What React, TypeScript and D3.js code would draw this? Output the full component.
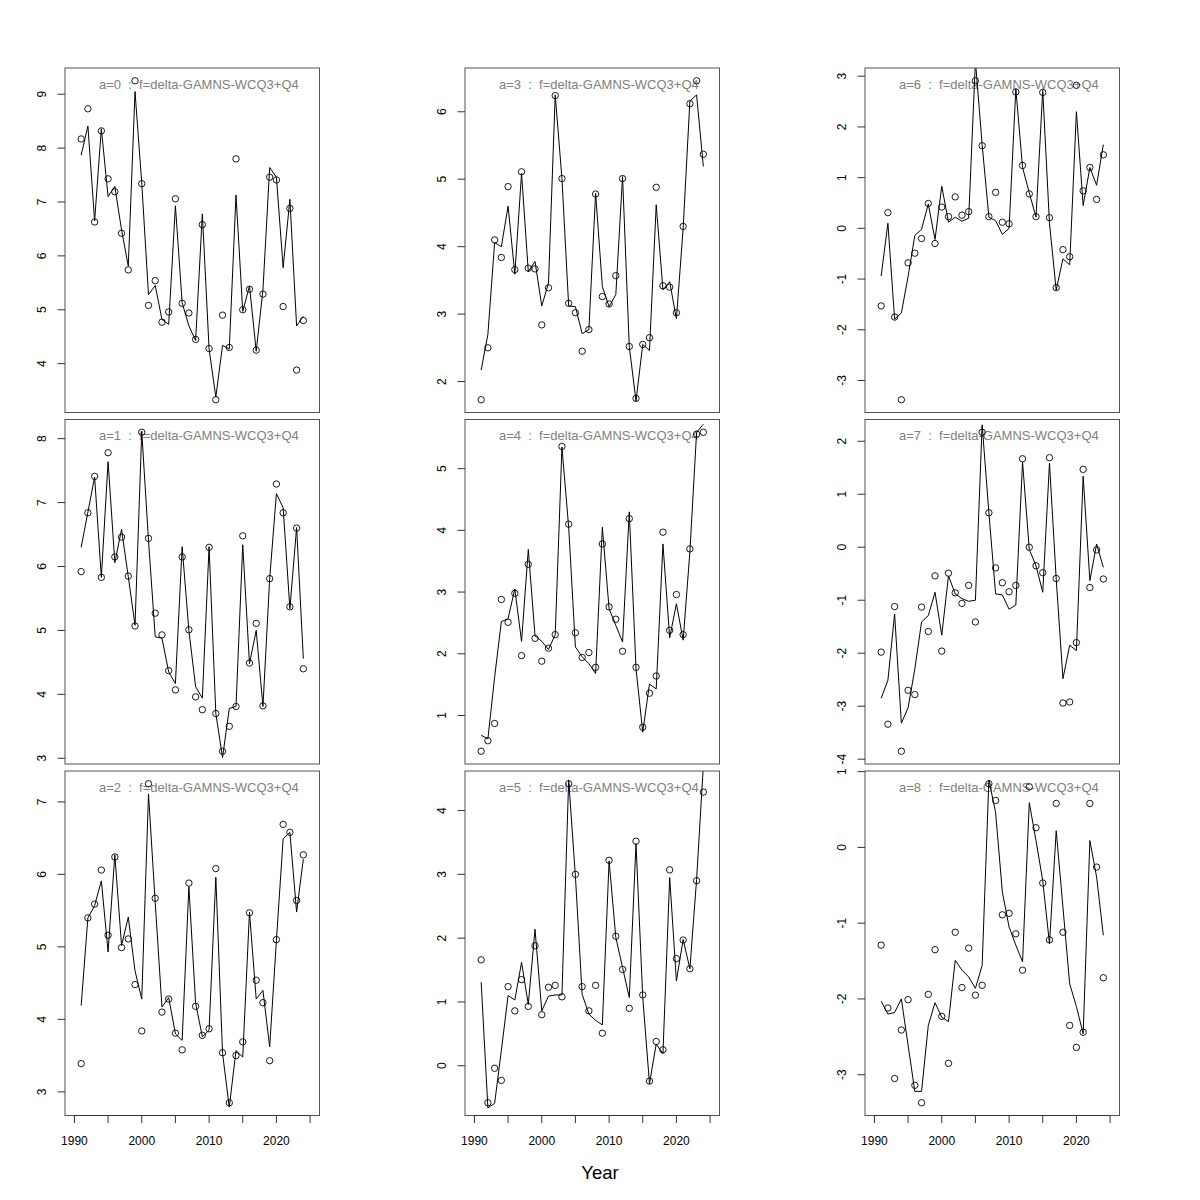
import React from 'react';
import * as d3 from 'd3';

const years = [1991, 1992, 1993, 1994, 1995, 1996, 1997, 1998, 1999, 2000, 2001, 2002, 2003, 2004, 2005, 2006, 2007,
  2008, 2009, 2010, 2011, 2012, 2013, 2014, 2015, 2016, 2017, 2018, 2019, 2020, 2021, 2022, 2023, 2024];
const xTicks = [1990, 1995, 2000, 2005, 2010, 2015, 2020, 2025];
const xLabels = [1990, 2000, 2010, 2020];

const obsA0 = [8.17, 8.73, 6.63, 8.32, 7.43, 7.19, 6.42, 5.74, 9.25, 7.34, 5.08, 5.54, 4.77, 4.96, 7.06, 5.12, 4.94, 4.45, 6.58, 4.28, 3.33, 4.90, 4.30, 7.80, 5.00, 5.38, 4.25, 5.29, 7.46, 7.41, 5.06, 6.88, 3.88, 4.80];
const fitA0 = [7.87, 8.41, 6.65, 8.36, 7.10, 7.29, 6.48, 5.81, 9.05, 7.35, 5.28, 5.45, 4.82, 4.73, 6.93, 5.13, 4.70, 4.43, 6.78, 4.27, 3.38, 4.34, 4.27, 7.13, 4.97, 5.44, 4.23, 5.37, 7.64, 7.46, 5.78, 7.05, 4.70, 4.88];
const obsA1 = [5.92, 6.84, 7.41, 5.83, 7.78, 6.15, 6.46, 5.85, 5.07, 8.10, 6.44, 5.27, 4.93, 4.37, 4.07, 6.15, 5.01, 3.96, 3.76, 6.30, 3.70, 3.11, 3.50, 3.81, 6.48, 4.49, 5.11, 3.82, 5.81, 7.29, 6.84, 5.37, 6.60, 4.40];
const fitA1 = [6.30, 6.85, 7.40, 5.83, 7.64, 6.06, 6.58, 5.84, 5.08, 8.11, 6.41, 4.90, 4.88, 4.35, 4.17, 6.31, 5.00, 4.12, 3.94, 6.31, 3.70, 3.01, 3.78, 3.81, 6.34, 4.48, 5.00, 3.81, 5.81, 7.14, 6.92, 5.34, 6.61, 4.56];
const obsA2 = [3.39, 5.40, 5.59, 6.06, 5.16, 6.24, 4.99, 5.11, 4.48, 3.84, 7.25, 5.67, 4.10, 4.28, 3.81, 3.58, 5.88, 4.18, 3.78, 3.87, 6.08, 3.54, 2.85, 3.50, 3.69, 5.47, 4.54, 4.23, 3.43, 5.10, 6.69, 6.58, 5.64, 6.27];
const fitA2 = [4.19, 5.40, 5.57, 5.91, 4.93, 6.27, 5.02, 5.41, 4.67, 4.28, 7.11, 5.61, 4.17, 4.30, 3.80, 3.71, 5.83, 4.22, 3.76, 3.85, 5.96, 3.53, 2.79, 3.57, 3.48, 5.48, 4.28, 4.40, 3.62, 5.09, 6.49, 6.58, 5.48, 6.21];
const obsA3 = [1.73, 2.50, 4.10, 3.84, 4.89, 3.66, 5.11, 3.68, 3.67, 2.84, 3.39, 6.24, 5.01, 3.16, 3.02, 2.45, 2.77, 4.78, 3.26, 3.15, 3.57, 5.01, 2.52, 1.75, 2.55, 2.65, 4.88, 3.42, 3.40, 3.02, 4.30, 6.12, 6.46, 5.37];
const fitA3 = [2.17, 2.70, 4.06, 4.00, 4.60, 3.59, 5.09, 3.63, 3.78, 3.12, 3.46, 6.25, 5.01, 3.12, 3.11, 2.71, 2.77, 4.79, 3.41, 3.11, 3.29, 5.04, 2.52, 1.71, 2.55, 2.46, 4.62, 3.36, 3.48, 2.93, 4.27, 6.16, 6.25, 5.19];
const obsA4 = [0.42, 0.59, 0.87, 2.88, 2.51, 2.98, 1.97, 3.45, 2.25, 1.88, 2.09, 2.31, 5.36, 4.10, 2.34, 1.94, 2.02, 1.78, 3.78, 2.76, 2.56, 2.04, 4.19, 1.78, 0.81, 1.36, 1.64, 3.97, 2.38, 2.96, 2.31, 3.70, 5.56, 5.59];
const fitA4 = [0.68, 0.62, 1.62, 2.52, 2.57, 3.05, 2.20, 3.69, 2.29, 2.20, 2.07, 2.31, 5.35, 4.05, 2.11, 1.95, 1.84, 1.68, 4.05, 2.73, 2.46, 2.19, 4.30, 1.76, 0.73, 1.51, 1.43, 3.78, 2.26, 2.81, 2.22, 3.65, 5.59, 5.72];
const obsA5 = [1.66, -0.58, -0.04, -0.23, 1.24, 0.86, 1.35, 0.93, 1.88, 0.80, 1.23, 1.26, 1.08, 4.42, 3.00, 1.24, 0.86, 1.26, 0.51, 3.22, 2.03, 1.51, 0.90, 3.52, 1.11, -0.24, 0.38, 0.25, 3.07, 1.68, 1.97, 1.52, 2.90, 4.29];
const fitA5 = [1.31, -0.66, -0.59, 0.24, 1.10, 1.03, 1.62, 0.96, 2.14, 0.86, 1.09, 1.11, 1.11, 4.48, 2.97, 1.12, 0.81, 0.71, 0.64, 3.21, 2.01, 1.54, 1.07, 3.48, 1.07, -0.28, 0.34, 0.19, 2.95, 1.33, 1.98, 1.52, 2.92, 4.70];
const obsA6 = [-1.53, 0.31, -1.75, -3.38, -0.68, -0.49, -0.20, 0.49, -0.30, 0.42, 0.23, 0.62, 0.26, 0.33, 2.91, 1.63, 0.23, 0.71, 0.12, 0.09, 2.69, 1.24, 0.68, 0.23, 2.68, 0.21, -1.17, -0.42, -0.56, 2.82, 0.74, 1.20, 0.57, 1.45];
const fitA6 = [-0.94, 0.10, -1.79, -1.67, -0.95, -0.14, -0.02, 0.48, -0.22, 0.83, 0.12, 0.22, 0.14, 0.20, 3.30, 1.65, 0.22, 0.15, -0.12, 0.00, 2.75, 1.20, 0.70, 0.22, 2.72, 0.10, -1.22, -0.60, -0.72, 2.30, 0.45, 1.20, 0.85, 1.65];
const obsA7 = [-1.98, -3.34, -1.12, -3.85, -2.70, -2.78, -1.13, -1.59, -0.54, -1.96, -0.49, -0.86, -1.06, -0.72, -1.41, 2.17, 0.65, -0.39, -0.67, -0.84, -0.72, 1.67, 0.00, -0.35, -0.48, 1.69, -0.59, -2.94, -2.92, -1.80, 1.47, -0.76, -0.05, -0.60];
const fitA7 = [-2.85, -2.51, -1.26, -3.32, -3.03, -2.30, -1.41, -1.29, -0.85, -1.66, -0.54, -0.88, -0.97, -1.02, -1.00, 2.31, 0.65, -0.88, -0.90, -1.17, -1.09, 1.61, -0.04, -0.35, -0.85, 1.59, -0.60, -2.48, -1.85, -1.95, 1.34, -0.63, 0.06, -0.38];
const obsA8 = [-1.29, -2.12, -3.05, -2.41, -2.01, -3.14, -3.37, -1.94, -1.35, -2.23, -2.85, -1.12, -1.85, -1.33, -1.95, -1.82, 0.84, 0.62, -0.89, -0.87, -1.14, -1.62, 0.80, 0.26, -0.47, -1.22, 0.58, -1.12, -2.35, -2.64, -2.44, 0.58, -0.26, -1.72];
const fitA8 = [-2.03, -2.20, -2.18, -2.00, -2.61, -3.22, -3.22, -2.35, -2.05, -2.24, -2.30, -1.49, -1.62, -1.71, -1.86, -1.56, 0.89, 0.46, -0.59, -1.05, -1.29, -1.51, 0.59, 0.09, -0.44, -1.27, 0.22, -0.79, -1.80, -2.10, -2.46, 0.09, -0.39, -1.16];

const ages = ['a=0', 'a=1', 'a=2', 'a=3', 'a=4', 'a=5', 'a=6', 'a=7', 'a=8'];
const observed = [obsA0, obsA1, obsA2, obsA3, obsA4, obsA5, obsA6, obsA7, obsA8];
const fitted = [fitA0, fitA1, fitA2, fitA3, fitA4, fitA5, fitA6, fitA7, fitA8];
const model = 'f=delta-GAMNS-WCQ3+Q4';

// layout of the 3x3 grid (filled column by column, like mfcol)
const colLeft = [65, 465, 865];
const rowTop = [68, 419.5, 771];
const pw = 254.5;
const ph = 344.5;
const font = '"Liberation Sans", Arial, Helvetica, sans-serif';

const Panel: React.FC<{ i: number }> = ({ i }) => {
  const col = Math.floor(i / 3);
  const row = i % 3;
  const left = colLeft[col];
  const top = rowTop[row];
  const obs = observed[i];
  const fit = fitted[i];

  const x = d3.scaleLinear().domain([1988.6, 2026.4]).range([left, left + pw]);
  const [lo, hi] = d3.extent(obs) as [number, number];
  const pad = (hi - lo) * 0.04;
  const y = d3.scaleLinear().domain([lo - pad, hi + pad]).range([top + ph, top]);
  const yTicks = d3.range(Math.ceil(lo - pad), Math.floor(hi + pad) + 1);

  const line = d3.line<number>()
    .x((_, k) => x(years[k]))
    .y(d => y(d));

  const clipId = `clip-${i}`;
  const bottom = top + ph;

  return (
    <g>
      <defs>
        <clipPath id={clipId}>
          <rect x={left} y={top} width={pw} height={ph} />
        </clipPath>
      </defs>
      <text x={left + 34} y={top + 20.7} fontSize={13} fill="#808080" fontFamily={font}
        style={{ whiteSpace: 'pre' }}>{`${ages[i]}  :  ${model}`}</text>
      <path d={line(fit) || ''} fill="none" stroke="#000" strokeWidth={1} clipPath={`url(#${clipId})`} />
      {obs.map((v, k) => (
        <circle key={k} cx={x(years[k])} cy={y(v)} r={3.2} fill="none" stroke="#000" strokeWidth={0.9} />
      ))}
      <rect x={left} y={top} width={pw} height={ph} fill="none" stroke="#555" strokeWidth={1} />
      {yTicks.map(t => (
        <g key={t}>
          <line x1={left - 7.5} x2={left} y1={y(t)} y2={y(t)} stroke="#333" />
          <text transform={`translate(${left - 19},${y(t)}) rotate(-90)`} textAnchor="middle"
            fontSize={12} fontFamily={font} fill="#000">{t}</text>
        </g>
      ))}
      {row === 2 && (
        <g>
          <line x1={x(1990)} x2={x(2025)} y1={bottom} y2={bottom} stroke="#333" />
          {xTicks.map(t => (
            <line key={t} x1={x(t)} x2={x(t)} y1={bottom} y2={bottom + 7.5} stroke="#333" />
          ))}
          {xLabels.map(t => (
            <text key={t} x={x(t)} y={bottom + 29.5} textAnchor="middle" fontSize={12}
              fontFamily={font} fill="#000">{t}</text>
          ))}
        </g>
      )}
    </g>
  );
};

export default function App() {
  return (
    <div style={{ position: 'absolute', left: 0, top: 0 }}>
      <svg width={1200} height={1200} style={{ display: 'block', background: '#fff' }}>
        {ages.map((_, i) => <Panel key={i} i={i} />)}
        <text x={600} y={1179} textAnchor="middle" fontSize={18.5} fontFamily={font} fill="#000">Year</text>
      </svg>
    </div>
  );
}
